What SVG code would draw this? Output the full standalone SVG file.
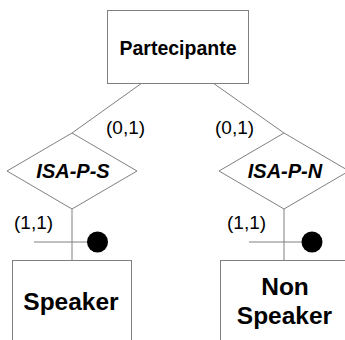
<svg xmlns="http://www.w3.org/2000/svg" width="345" height="340" viewBox="0 0 345 340">
<style>
.box{fill:#fff;stroke:#808080;stroke-width:1}
.ln{fill:none;stroke:#808080;stroke-width:1}
.ent{font-family:"Liberation Sans",Arial,sans-serif;font-weight:bold;fill:#000;text-anchor:middle}
.rel{font-family:"Liberation Sans",Arial,sans-serif;font-weight:bold;font-style:italic;font-size:20px;fill:#000;text-anchor:middle}
.card{font-family:"Liberation Sans",Arial,sans-serif;font-size:19px;fill:#000}
</style>
<rect width="345" height="340" fill="#fff"/>
<g id="connectors">
<line class="ln" x1="142" y1="83" x2="72" y2="133"/>
<line class="ln" x1="213" y1="83" x2="284" y2="133"/>
<line class="ln" x1="72" y1="209" x2="72" y2="260"/>
<line class="ln" x1="284" y1="209" x2="284" y2="260"/>
<line class="ln" x1="34" y1="242" x2="97" y2="242"/>
<line class="ln" x1="249" y1="242" x2="312" y2="242"/>
<circle cx="97.5" cy="242" r="10.5" fill="#000"/>
<circle cx="312" cy="242" r="10.5" fill="#000"/>
<text class="card" x="106" y="134">(0,1)</text>
<text class="card" x="215" y="134">(0,1)</text>
<text class="card" x="14" y="229">(1,1)</text>
<text class="card" x="227" y="229">(1,1)</text>
</g>
<g id="partecipante">
<rect class="box" x="107.5" y="10.5" width="141" height="73"/>
<text class="ent" x="178" y="55" font-size="19.5">Partecipante</text>
</g>
<g id="isa-p-s">
<polygon class="box" points="72,133 137,171 72,209 7,171"/>
<text class="rel" x="73" y="178">ISA-P-S</text>
</g>
<g id="isa-p-n">
<polygon class="box" points="284,133 349,171 284,209 219,171"/>
<text class="rel" x="285" y="178">ISA-P-N</text>
</g>
<g id="speaker">
<rect class="box" x="12.5" y="260.5" width="119" height="100"/>
<text class="ent" x="71" y="310" font-size="24.5">Speaker</text>
</g>
<g id="non-speaker">
<rect class="box" x="220.5" y="260.5" width="140" height="100"/>
<text class="ent" x="285" y="295" font-size="24.5">Non</text>
<text class="ent" x="284.5" y="324" font-size="24.5">Speaker</text>
</g>
</svg>
